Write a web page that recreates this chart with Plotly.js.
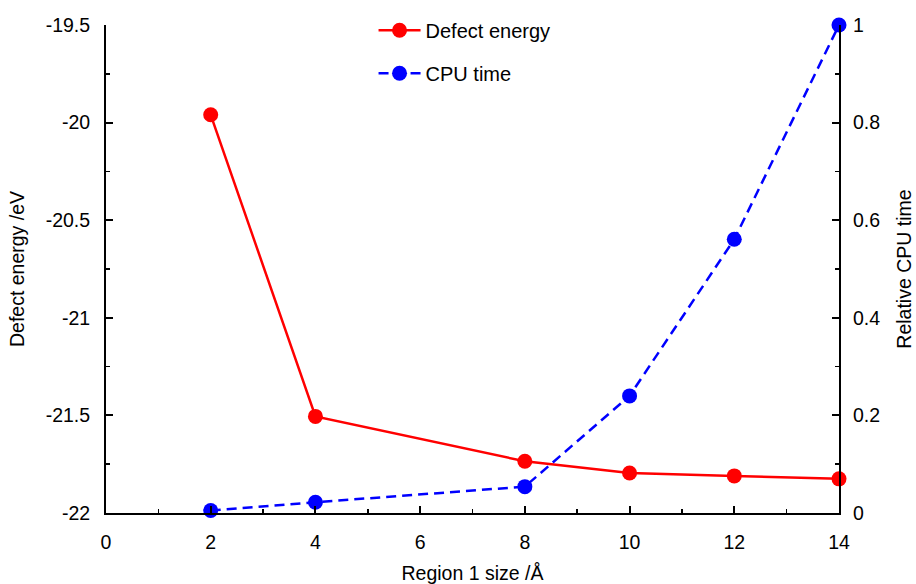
<!DOCTYPE html>
<html><head><meta charset="utf-8">
<script src="https://cdn.plot.ly/plotly-3.0.1.min.js"></script>
<style>html,body{margin:0;padding:0;background:#fff}#chart{width:916px;height:584px}</style>
</head><body><div id="chart"></div>
<script>
const regionSize = [2, 4, 8, 10, 12, 14];
const defectEnergy = [-19.96, -21.505, -21.735, -21.795, -21.81, -21.825];
const cpuTime = [0.005, 0.022, 0.054, 0.24, 0.561, 1.0];
const leftTickVals = [-22, -21.5, -21, -20.5, -20, -19.5];
const leftTickText = ['-22', '-21.5', '-21', '-20.5', '-20', '-19.5'];
const rightTickVals = [0, 0.2, 0.4, 0.6, 0.8, 1];
const rightTickText = ['0', '0.2', '0.4', '0.6', '0.8', '1'];
const xTickVals = [0, 2, 4, 6, 8, 10, 12, 14];

const font = {family: 'Liberation Sans, Arial, sans-serif', size: 19.5, color: '#000'};
const legendFont = {family: 'Liberation Sans, Arial, sans-serif', size: 20, color: '#000'};

const traces = [
  {x: regionSize, y: defectEnergy, name: 'Defect energy', type: 'scatter', mode: 'lines+markers',
   line: {color: '#ff0000', width: 2.5}, marker: {color: '#ff0000', size: 15},
   cliponaxis: false, legendgroup: 'a', yaxis: 'y'},
  {x: regionSize, y: cpuTime, name: 'CPU time', type: 'scatter', mode: 'lines+markers',
   line: {color: '#0000ff', width: 2.5, dash: '10px,6px'}, marker: {color: '#0000ff', size: 15},
   cliponaxis: false, legendgroup: 'b', yaxis: 'y2'}
];

const layout = {
  width: 916, height: 584,
  margin: {l: 106, r: 77, t: 24, b: 71},
  paper_bgcolor: '#fff', plot_bgcolor: '#fff',
  font: font,
  showlegend: true,
  legend: {x: 0.365, y: 1.027, xanchor: 'left', yanchor: 'top', bgcolor: 'rgba(0,0,0,0)',
           font: legendFont, tracegroupgap: 14, itemwidth: 42},
  xaxis: {range: [0, 14], tickvals: xTickVals, ticks: 'inside', ticklen: 7, tickwidth: 2,
          tickcolor: '#000', showline: true, linecolor: '#000', linewidth: 2, showgrid: false,
          zeroline: false, ticklabelstandoff: 11,
          minor: {dtick: 1, ticks: 'inside', ticklen: 4, tickwidth: 1.5, tickcolor: '#000', showgrid: false},
          title: {text: 'Region 1 size /Å', font: font, standoff: 15}},
  yaxis: {range: [-22, -19.5], tickvals: leftTickVals, ticktext: leftTickText, ticks: 'inside',
          ticklen: 7, tickwidth: 2, tickcolor: '#000', showline: true, linecolor: '#000', linewidth: 2,
          showgrid: false, zeroline: false, ticklabelstandoff: 10,
          minor: {dtick: 0.25, tick0: -22, ticks: 'inside', ticklen: 4, tickwidth: 1.5, tickcolor: '#000', showgrid: false},
          title: {text: 'Defect energy /eV', font: font, standoff: 16}},
  yaxis2: {range: [0, 1], overlaying: 'y', side: 'right', tickvals: rightTickVals, ticktext: rightTickText,
           ticks: 'inside', ticklen: 7, tickwidth: 2, tickcolor: '#000', showline: true, linecolor: '#000',
           linewidth: 2, showgrid: false, zeroline: false, ticklabelstandoff: 8,
           minor: {dtick: 0.1, tick0: 0, ticks: 'inside', ticklen: 4, tickwidth: 1.5, tickcolor: '#000', showgrid: false},
           title: {text: 'Relative CPU time', font: font, standoff: 18}}
};

Plotly.newPlot('chart', traces, layout, {displayModeBar: false, staticPlot: true});
</script></body></html>
